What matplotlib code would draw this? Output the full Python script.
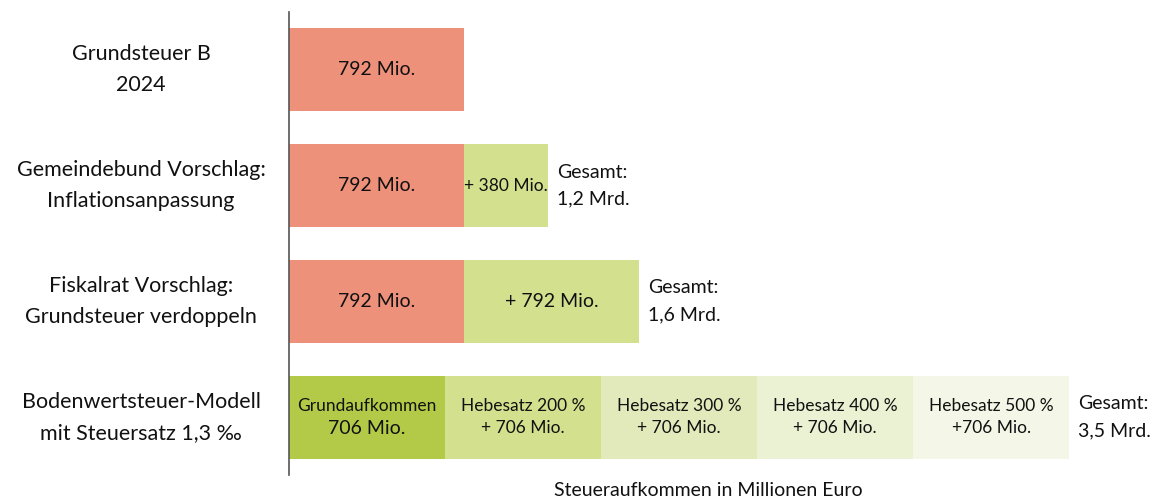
import matplotlib
matplotlib.use("Agg")
from matplotlib import pyplot as plt
from matplotlib import transforms

plt.rcParams['font.family'] = ['Lato', 'DejaVu Sans']

# Zeilen (von oben nach unten)
zeilen = ['Grundsteuer B\n2024',
          'Gemeindebund Vorschlag:\nInflationsanpassung',
          'Fiskalrat Vorschlag:\nGrundsteuer verdoppeln',
          'Bodenwertsteuer-Modell\nmit Steuersatz 1,3 ‰']

# Segmente je Zeile in Millionen Euro
segmente = [
    [792],
    [792, 380],
    [792, 792],
    [706, 706, 706, 706, 706],
]
segment_labels = [
    ['792 Mio.'],
    ['792 Mio.', '+ 380 Mio.'],
    ['792 Mio.', '+ 792 Mio.'],
    [None, 'Hebesatz 200 %\n+ 706 Mio.', 'Hebesatz 300 %\n+ 706 Mio.',
     'Hebesatz 400 %\n+ 706 Mio.', 'Hebesatz 500 %\n+706 Mio.'],
]
gesamt_labels = [None, 'Gesamt:\n1,2 Mrd.', 'Gesamt:\n1,6 Mrd.', 'Gesamt:\n3,5 Mrd.']

farben = [
    ['#ED917B'],
    ['#ED917B', '#D3E08E'],
    ['#ED917B', '#D3E08E'],
    ['#B2CA47', '#D3E08E', '#E2EABB', '#EBF1D3', '#F4F7E7'],
]

fig = plt.figure(figsize=(11.62, 5.0), dpi=100)
ax = fig.add_axes([289 / 1162, 25 / 500, (1162 - 289) / 1162, 463 / 500])

bar_hoehe = 0.715
for i, werte in enumerate(segmente):
    links = 0
    for j, w in enumerate(werte):
        ax.barh(i, w, left=links, height=bar_hoehe, color=farben[i][j], edgecolor='none')
        label = segment_labels[i][j]
        mitte = links + w / 2
        if label is None:
            # Grundaufkommen: zweite Zeile größer
            ax.text(mitte, i - 0.1, 'Grundaufkommen', ha='center', va='center',
                    fontsize=12.5, color='#111111')
            ax.text(mitte, i + 0.1, '706 Mio.', ha='center', va='center',
                    fontsize=14, color='#111111')
        else:
            groesse = 12.5 if i == 3 else 14
            if i == 1 and j == 1:
                groesse = 12.5
            ax.text(mitte, i, label, ha='center', va='center', fontsize=groesse,
                    color='#111111', linespacing=1.45)
        links += w
    if gesamt_labels[i]:
        ax.text(links + 40, i, gesamt_labels[i], ha='left', va='center', fontsize=14,
                color='#111111', linespacing=1.7)

ax.set_xlim(0, (1162 - 289) / 0.221)
ax.set_ylim(3.5, -0.5)

for s in ['top', 'right', 'bottom']:
    ax.spines[s].set_visible(False)
ax.spines['left'].set_color('#555555')
ax.spines['left'].set_linewidth(1.2)
ax.set_xticks([])
ax.set_yticks([])

# Zeilenbeschriftungen links, zentriert
trans = transforms.blended_transform_factory(fig.transFigure, ax.transData)
for i, z in enumerate(zeilen):
    ax.text(141 / 1162, i, z, transform=trans, ha='center', va='center', fontsize=15.5,
            color='#111111', linespacing=1.7)

fig.text(708 / 1162, 1 - 490 / 500, 'Steueraufkommen in Millionen Euro', ha='center',
         va='center', fontsize=14, color='#111111')

plt.savefig('out.png', dpi=100)
